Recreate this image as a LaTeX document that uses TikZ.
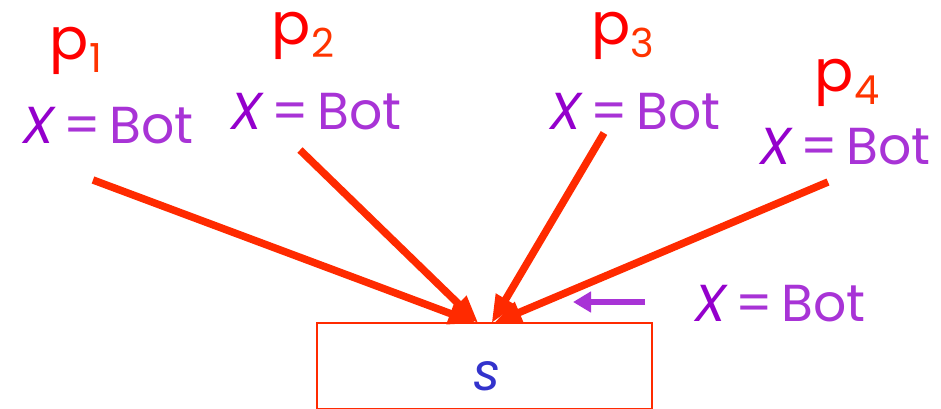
\documentclass[tikz,border=0pt]{standalone}
\usepackage{fontspec}
\setmainfont{Poppins}
\usetikzlibrary{arrows.meta}
\definecolor{pred}{HTML}{FF0000}
\definecolor{subred}{HTML}{FF3300}
\definecolor{arrred}{HTML}{FF2A00}
\definecolor{xpurp}{HTML}{9400CC}
\definecolor{bpurp}{HTML}{A833D6}
\definecolor{sblue}{HTML}{3333CC}
\tikzset{
  plabel/.style={anchor=base, inner sep=0pt, text=pred, font=\fontsize{58}{60}\selectfont},
  xlabel/.style={anchor=base, inner sep=0pt, font=\fontsize{52}{54}\selectfont},
  flow/.style={draw=arrred, line width=7.5pt, -{Triangle[length=28pt,width=21pt]}},
  note/.style={draw=bpurp, line width=6pt, -{Triangle[length=18pt,width=20pt]}},
  stmt/.style={draw=arrred, line width=1.4pt, minimum width=335pt, minimum height=86pt, inner sep=0pt}
}
\newcommand{\xbot}{{\itshape\color{xpurp}X}\,{\color{bpurp}=\,Bot}}
\newcommand{\pp}[1]{p{\color{subred}\fontsize{40}{42}\selectfont\raisebox{-13pt}{#1}}}
\begin{document}
\begin{tikzpicture}[x=1pt,y=-1pt]
\useasboundingbox (0,0) rectangle (941,409);
\node[stmt] (box) at (484.5,366) {};
\node[anchor=base, text=sblue, font=\fontsize{52}{54}\selectfont\itshape] (s) at (487,390) {s};
\node[plabel] (p1) at (76,60) {\pp{1}};
\node[plabel] (p2) at (303,45) {\pp{2}};
\node[plabel] (p3) at (623,45) {\pp{3}};
\node[plabel] (p4) at (847,92) {\pp{4}};
\node[xlabel] (x1) at (108,143) {\xbot};
\node[xlabel] (x2) at (316,129) {\xbot};
\node[xlabel] (x3) at (635,129) {\xbot};
\node[xlabel] (x4) at (845,164) {\xbot};
\node[xlabel] (x5) at (780,321) {\xbot};
\coordinate (a1) at (93,180);
\coordinate (a2) at (300,150);
\coordinate (a3) at (604,133);
\coordinate (a4) at (828,182);
\coordinate (n1) at (645,302);
\coordinate (n2) at (573,302);
\draw[flow] (a1) -- ([xshift=-8pt,yshift=-1pt]box.north);
\draw[flow] (a2) -- ([xshift=-6pt,yshift=-1pt]box.north);
\draw[flow] (a3) -- ([xshift=7pt,yshift=-1pt]box.north);
\draw[flow] (a4) -- ([xshift=9pt,yshift=-1pt]box.north);
\draw[note] (n1) -- (n2);
\end{tikzpicture}
\end{document}
